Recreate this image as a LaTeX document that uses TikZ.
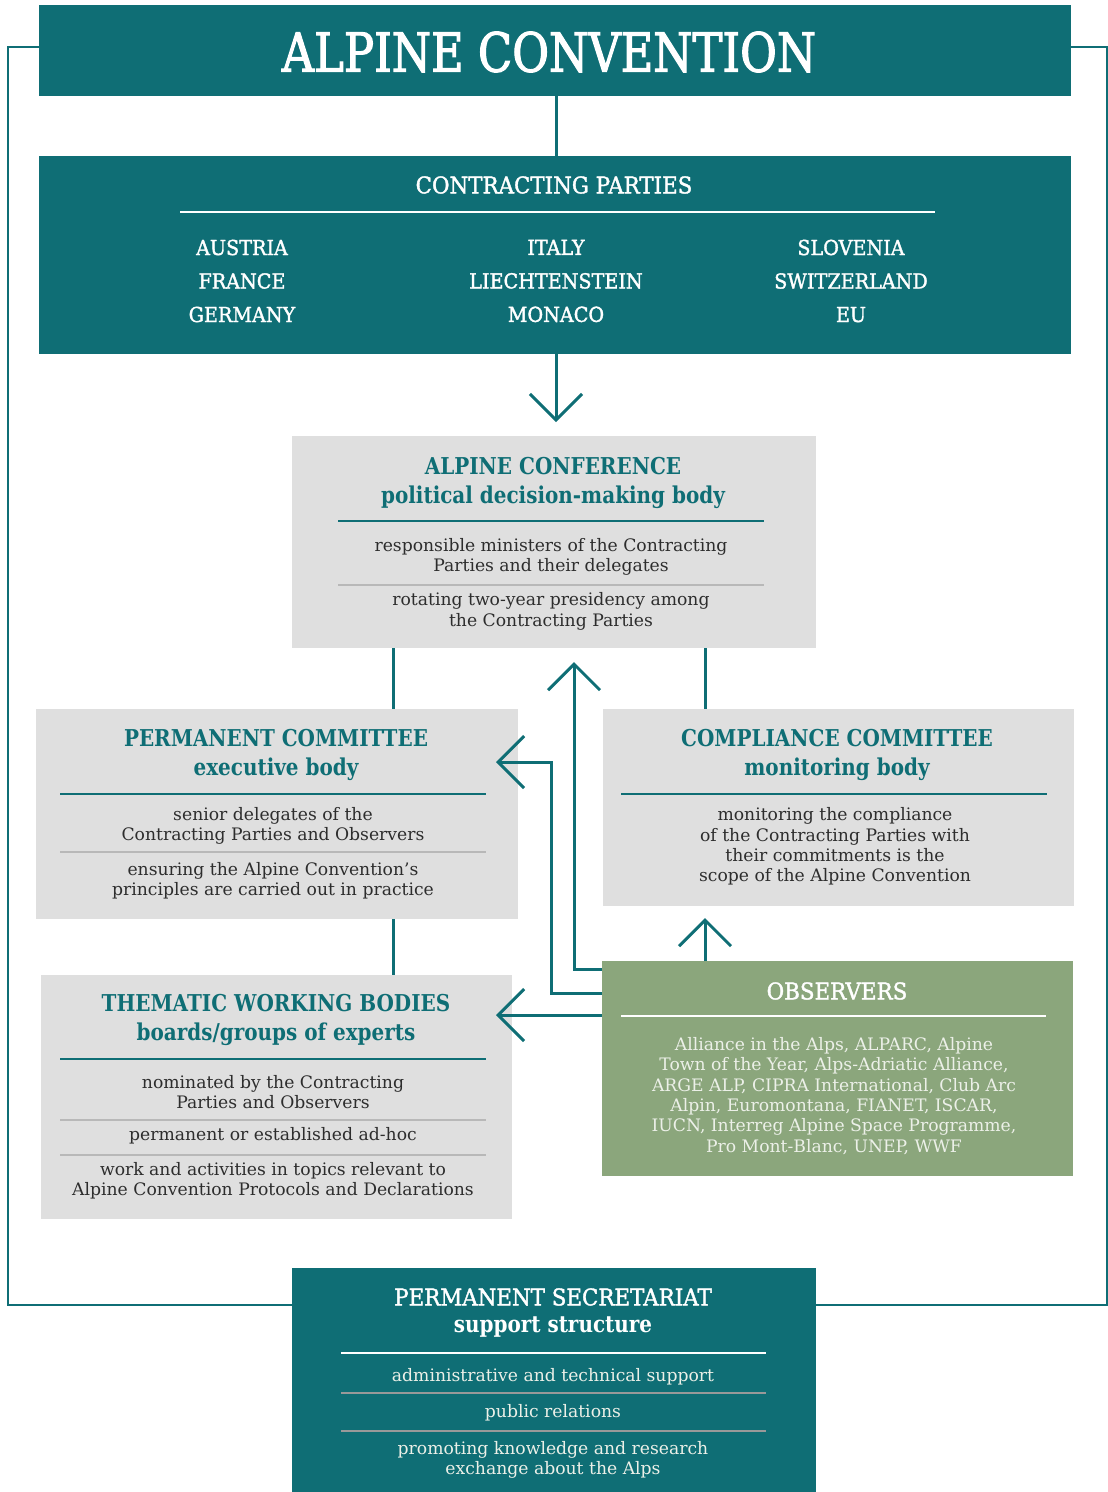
\documentclass[tikz,border=0pt]{standalone}
\usepackage{fontspec}
\setmainfont{DejaVu Serif}
\usepackage{xcolor}
\usetikzlibrary{arrows.meta}

\definecolor{acteal}{RGB}{15,110,117}
\definecolor{acgrey}{RGB}{223,223,223}
\definecolor{acgreen}{RGB}{139,166,124}
\definecolor{actext}{RGB}{45,45,45}
\definecolor{acpale}{RGB}{236,240,232}

\newfontfamily\acnarrow[FakeStretch=0.86]{DejaVu Serif}
\newfontfamily\acmedium[FakeStretch=0.93,FakeBold=1.6]{DejaVu Serif}
\newfontfamily\acbig[FakeStretch=0.83,FakeBold=2]{DejaVu Serif}
\newcommand\actitle{\acbig\fontsize{54}{60}\selectfont}
\newcommand\achead{\acnarrow\fontsize{23.2}{29}\selectfont}
\newcommand\accaps{\acmedium\fontsize{23}{34}\selectfont}
\newcommand\accountry{\acmedium\fontsize{20.6}{33.5}\selectfont}
\newcommand\acbody{\fontsize{17.2}{20.4}\selectfont}

\begin{document}
\begin{tikzpicture}[x=1pt,y=-1pt,>={Straight Barb[length=26pt,width=52pt]},
  box/.style={rectangle,inner sep=0pt,outer sep=0pt,anchor=north west},
  tealbox/.style={box,fill=acteal},
  greybox/.style={box,fill=acgrey},
  greenbox/.style={box,fill=acgreen},
  head/.style={font=\achead\bfseries,text=acteal,align=center},
  body/.style={font=\acbody,text=actext,align=center},
  link/.style={acteal,line width=3pt},
  frame/.style={acteal,line width=2pt},
  tealrule/.style={acteal,line width=2.6pt},
  whiterule/.style={white,line width=2.6pt},
  greyrule/.style={black!28,line width=1.2pt}]
  \useasboundingbox (0,0) rectangle (1108,1492);

  % boxes
  \node[tealbox,minimum width=1032,minimum height=91] (conv) at (39,5) {};
  \node[tealbox,minimum width=1032,minimum height=198] (cp) at (39,156) {};
  \node[greybox,minimum width=524,minimum height=212] (conf) at (292,436) {};
  \node[greybox,minimum width=482,minimum height=210] (perm) at (36,709) {};
  \node[greybox,minimum width=471,minimum height=197] (comp) at (603,709) {};
  \node[greybox,minimum width=471,minimum height=244] (twb) at (41,975) {};
  \node[greenbox,minimum width=471,minimum height=215] (obs) at (602,961) {};
  \node[tealbox,minimum width=524,minimum height=224] (sec) at (292,1268) {};

  % frame round the whole
  \draw[frame] (conv.west |- 0,47) -| (8,1305) -- (sec.west |- 0,1305);
  \draw[frame] (conv.east |- 0,47) -| (1107,1305) -- (sec.east |- 0,1305);

  % title and contracting parties
  \node[font=\actitle,text=white] (convt) at (549,52) {ALPINE CONVENTION};
  \node[font=\accaps,text=white] (cpt) at (554,185) {CONTRACTING PARTIES};
  \draw[whiterule] (180,212) -- (935,212);
  \node[font=\accountry,text=white,align=center] (cpa) at (242,281) {AUSTRIA\\FRANCE\\GERMANY};
  \node[font=\accountry,text=white,align=center] (cpb) at (556,281) {ITALY\\LIECHTENSTEIN\\MONACO};
  \node[font=\accountry,text=white,align=center] (cpc) at (851,281) {SLOVENIA\\SWITZERLAND\\EU};

  % alpine conference
  \node[head] (conft) at (553,483) {ALPINE CONFERENCE\\political decision-making body};
  \draw[tealrule] (338,521) -- (764,521);
  \node[body] (confa) at (551,557) {responsible ministers of the Contracting\\Parties and their delegates};
  \draw[greyrule] (338,585) -- (764,585);
  \node[body] (confb) at (551,611.5) {rotating two-year presidency among\\the Contracting Parties};

  % permanent committee
  \node[head] (permt) at (276,755) {PERMANENT COMMITTEE\\executive body};
  \draw[tealrule] (60,794) -- (486,794);
  \node[body] (perma) at (273,826) {senior delegates of the\\Contracting Parties and Observers};
  \draw[greyrule] (60,852) -- (486,852);
  \node[body] (permb) at (273,881) {ensuring the Alpine Convention's\\principles are carried out in practice};

  % compliance committee
  \node[head] (compt) at (837,755) {COMPLIANCE COMMITTEE\\monitoring body};
  \draw[tealrule] (621,794) -- (1047,794);
  \node[body] (compa) at (835,846.5) {monitoring the compliance\\of the Contracting Parties with\\their commitments is the\\scope of the Alpine Convention};

  % thematic working bodies
  \node[head] (twbt) at (276,1020) {THEMATIC WORKING BODIES\\boards/groups of experts};
  \draw[tealrule] (60,1059) -- (486,1059);
  \node[body] (twba) at (273,1092) {nominated by the Contracting\\Parties and Observers};
  \draw[greyrule] (60,1120) -- (486,1120);
  \node[body] (twbb) at (273,1136) {permanent or established ad-hoc};
  \draw[greyrule] (60,1155) -- (486,1155);
  \node[body] (twbc) at (273,1181) {work and activities in topics relevant to\\Alpine Convention Protocols and Declarations};

  % observers
  \node[font=\accaps,text=white] (obst) at (837,991) {OBSERVERS};
  \draw[whiterule] (621,1016) -- (1046,1016);
  \node[body,text=acpale] (obsa) at (834,1096) {Alliance in the Alps, ALPARC, Alpine\\Town of the Year, Alps-Adriatic Alliance,\\ARGE ALP, CIPRA International, Club Arc\\Alpin, Euromontana, FIANET, ISCAR,\\IUCN, Interreg Alpine Space Programme,\\Pro Mont-Blanc, UNEP, WWF};

  % permanent secretariat
  \node[font=\accaps,text=white] (sect) at (553,1297) {PERMANENT SECRETARIAT};
  \node[font=\achead\bfseries,text=white] (secs) at (553,1327) {support structure};
  \draw[whiterule] (341,1353) -- (766,1353);
  \node[body,text=acpale] (seca) at (553,1377) {administrative and technical support};
  \draw[greyrule,black!40] (341,1393) -- (766,1393);
  \node[body,text=acpale] (secb) at (553,1413) {public relations};
  \draw[greyrule,black!40] (341,1431) -- (766,1431);
  \node[body,text=acpale] (secc) at (553,1460) {promoting knowledge and research\\exchange about the Alps};

  % connectors
  \draw[link] (conv.south -| 556,0) -- (cp.north -| 556,0);
  \draw[link,->] (cp.south -| 556,0) -- (556,422);
  \draw[link] (conf.south -| 393,0) -- (perm.north -| 393,0);
  \draw[link] (conf.south -| 705,0) -- (comp.north -| 705,0);
  \draw[link] (perm.south -| 393,0) -- (twb.north -| 393,0);
  \draw[link,->] (obs.north -| 705,0) -- (705,918);
  \draw[link,->] (obs.west |- 0,969) -| (574,662);
  \draw[link,->] (obs.west |- 0,993) -| (551,762) -- (496,762);
  \draw[link,->] (obs.west |- 0,1015) -- (496,1015);
\end{tikzpicture}
\end{document}
